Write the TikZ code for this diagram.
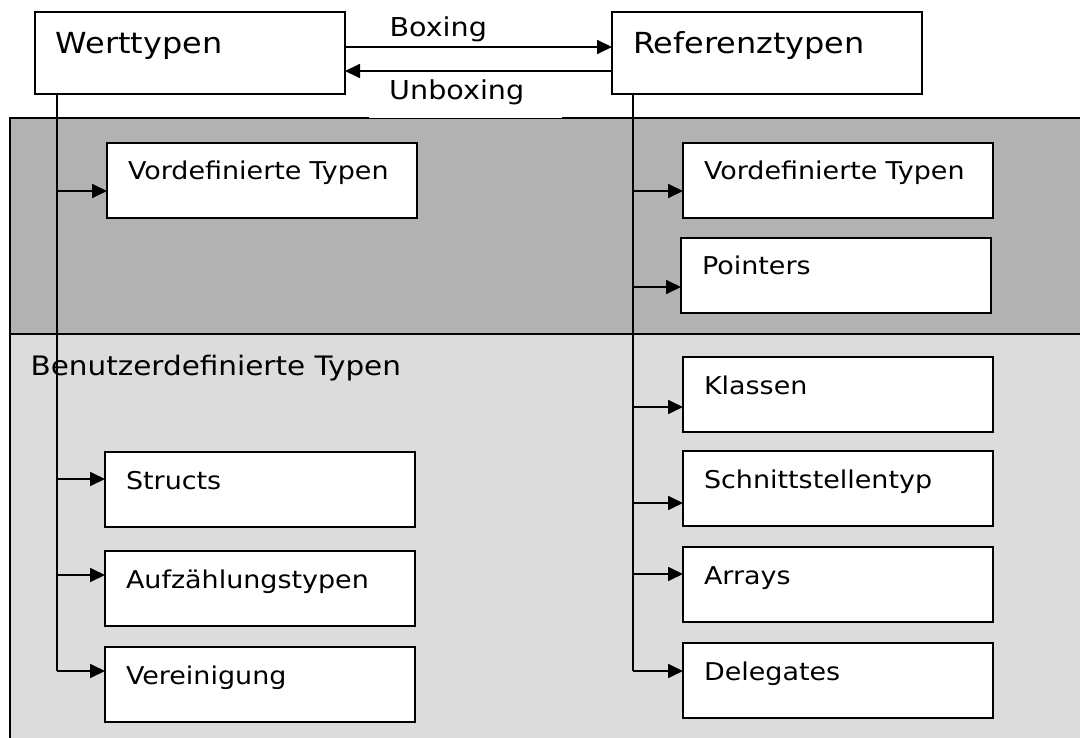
\documentclass[tikz,border=0pt]{standalone}
\usepackage{fontspec}
\setmainfont[FakeStretch=1.1]{DejaVu Sans}
\usetikzlibrary{arrows.meta}
\definecolor{dunkelgrau}{gray}{0.70}
\definecolor{hellgrau}{gray}{0.863}
\tikzset{
  typbox/.style={draw,fill=white,line width=1.9pt,outer sep=0pt,anchor=north west,
    inner xsep=21pt,inner ysep=0pt,text width=268pt,align=left,
    text height=37pt,text depth=38pt,font=\fontsize{24.5}{28}\selectfont},
  kopfbox/.style={typbox,text height=42pt,text depth=40pt,font=\fontsize{29}{34}\selectfont},
  zweig/.style={line width=1.8pt,-{Triangle[length=15pt,width=14pt]}},
}
\begin{document}
\begin{tikzpicture}[x=1pt,y=-1pt]
\clip (0,0) rectangle (1080,738);
\fill[white] (0,0) rectangle (1080,738);
% the two bands
\filldraw[fill=dunkelgrau,line width=1.9pt] (10,118) rectangle (1090,334);
\filldraw[fill=hellgrau,line width=1.9pt] (10,334) rectangle (1090,750);
\node[anchor=base west,font=\fontsize{26.8}{32}\selectfont] (benutzer) at (27,375) {Benutzerdefinierte Typen};

% top row
\node[kopfbox] (wert) at (35,12) {Werttypen};
\node[kopfbox] (ref) at (612,12) {Referenztypen};
\draw[zweig] ([yshift=6pt]wert.east) -- ([yshift=6pt]wert.east -| ref.west);
\draw[zweig] ([yshift=-18pt]ref.west) -- ([yshift=-18pt]ref.west -| wert.east);
\node[anchor=base west,font=\fontsize{26}{30}\selectfont] (boxing) at (386,37) {Boxing};
\node[fill=white,anchor=south west,inner xsep=20pt,inner ysep=0pt,text width=153pt,
  align=left,text depth=18pt,font=\fontsize{26}{30}\selectfont] (unboxing) at (369,118) {Unboxing};

% trunks
\coordinate (wfuss) at (57,671);
\coordinate (rfuss) at (633,671);
\draw[line width=1.8pt] (wert.south -| wfuss) -- (wfuss);
\draw[line width=1.8pt] (ref.south -| rfuss) -- (rfuss);

% Werttypen
\node[typbox] (wvor) at (107,143) {Vordefinierte Typen};
\node[typbox] (structs) at (105,452) {Structs};
\node[typbox] (aufz) at (105,551) {Aufzählungstypen};
\node[typbox] (verein) at (105,647) {Vereinigung};

% Referenztypen
\node[typbox] (rvor) at (683,143) {Vordefinierte Typen};
\node[typbox] (pointer) at (681,238) {Pointers};
\node[typbox] (klassen) at (683,357) {Klassen};
\node[typbox] (schnitt) at (683,451) {Schnittstellentyp};
\node[typbox] (arrays) at (683,547) {Arrays};
\node[typbox] (deleg) at (683,643) {Delegates};

\foreach \ziel/\ab in {wvor/48,structs/27,aufz/24,verein/24}{
  \path ([yshift=-\ab pt]\ziel.north west) coordinate (ende);
  \draw[zweig] (wfuss |- ende) -- (ende);
}
\foreach \ziel/\ab in {rvor/48,pointer/49,klassen/50,schnitt/52,arrays/27,deleg/28}{
  \path ([yshift=-\ab pt]\ziel.north west) coordinate (ende);
  \draw[zweig] (rfuss |- ende) -- (ende);
}
\end{tikzpicture}
\end{document}
